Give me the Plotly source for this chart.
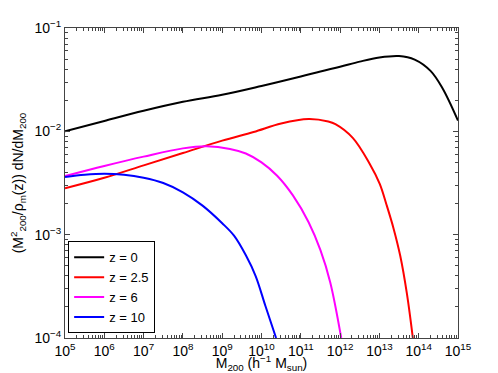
import plotly.graph_objects as go

# Data (M200 in h^-1 Msun, y = (M^2/rho_m) dN/dM)
M_z0 = [1e5, 1e6, 1e7, 1e8, 1e9, 1e10, 1e11, 3.16e11, 1e12, 3.16e12, 1e13, 3.16e13, 7.9e13, 2.0e14, 4.0e14, 1e15]
y_z0 = [1.00e-2, 1.26e-2, 1.58e-2, 1.93e-2, 2.26e-2, 2.75e-2, 3.39e-2, 3.80e-2, 4.22e-2, 4.73e-2, 5.19e-2, 5.36e-2, 4.95e-2, 3.85e-2, 2.63e-2, 1.27e-2]

M_z25 = [1e5, 1e6, 1e7, 1e8, 1e9, 6.3e9, 3.16e10, 1.58e11, 5.0e11, 7.6e11, 2.1e12, 5.6e12, 1.02e13, 1.51e13, 2.29e13, 3.39e13, 5.0e13, 7.1e13]
y_z25 = [2.81e-3, 3.55e-3, 4.68e-3, 6.17e-3, 8.13e-3, 9.86e-3, 1.19e-2, 1.315e-2, 1.245e-2, 1.175e-2, 8.65e-3, 4.89e-3, 3.10e-3, 1.96e-3, 1.15e-3, 6.24e-4, 2.70e-4, 1.0e-4]

M_z6 = [1e5, 1e6, 1e7, 1e8, 4e8, 1.58e9, 4e9, 1e10, 2.5e10, 6.3e10, 1.58e11, 3.16e11, 5.6e11, 1.07e12]
y_z6 = [3.69e-3, 4.62e-3, 5.69e-3, 6.84e-3, 7.16e-3, 6.76e-3, 6.10e-3, 5.01e-3, 3.72e-3, 2.40e-3, 1.32e-3, 7.08e-4, 3.47e-4, 1.0e-4]

M_z10 = [1e5, 3.16e5, 1e6, 3.16e6, 1e7, 3.16e7, 1e8, 3.16e8, 1e9, 2e9, 4e9, 7.1e9, 1.26e10, 2.35e10]
y_z10 = [3.61e-3, 3.80e-3, 3.89e-3, 3.80e-3, 3.55e-3, 3.16e-3, 2.57e-3, 1.91e-3, 1.29e-3, 9.77e-4, 6.31e-4, 3.98e-4, 2.04e-4, 1.0e-4]

series_names = ["z = 0", "z = 2.5", "z = 6", "z = 10"]
series_colors = ["#000000", "#ff0000", "#ff00ff", "#0000ff"]

x_exps = list(range(5, 16))
y_exps = [-4, -3, -2, -1]
x_tickvals = [10.0 ** e for e in x_exps]
x_ticktext = [f"10<sup>{e}</sup>" for e in x_exps]
y_tickvals = [10.0 ** e for e in y_exps]
y_ticktext = [f"10<sup>\u2212{-e}</sup>" for e in y_exps]

x_minor = [m * 10.0 ** e for e in range(5, 15) for m in range(2, 10)]
y_minor = [m * 10.0 ** e for e in range(-4, -1) for m in range(2, 10)]

FONT = "Liberation Sans, Arial, Helvetica, sans-serif"

fig = go.Figure()
for xs, ys, name, col in zip([M_z0, M_z25, M_z6, M_z10], [y_z0, y_z25, y_z6, y_z10], series_names, series_colors):
    fig.add_trace(go.Scatter(x=xs, y=ys, mode="lines", name=name,
                             line=dict(color=col, width=2, shape="spline", smoothing=1.0)))

axis_common = dict(
    type="log", showgrid=False, zeroline=False, showline=True, linecolor="#444",
    linewidth=1, mirror="allticks", ticks="inside", ticklen=5, tickcolor="#444",
    tickfont=dict(family=FONT, size=14, color="black"), tickmode="array",
)

fig.update_xaxes(range=[5, 15], tickvals=x_tickvals, ticktext=x_ticktext,
                 minor=dict(ticks="inside", ticklen=3, tickcolor="#444", tickmode="array", tickvals=x_minor, showgrid=False),
                 title=dict(text="M<sub>200</sub> (h<sup>\u22121</sup> M<sub>sun</sub>)", font=dict(family=FONT, size=14, color="black"), standoff=0),
                 **axis_common)
fig.update_yaxes(range=[-4, -1], tickvals=y_tickvals, ticktext=y_ticktext,
                 minor=dict(ticks="inside", ticklen=3, tickcolor="#444", tickmode="array", tickvals=y_minor, showgrid=False),
                 title=dict(text="(M<sup>2</sup><sub>200</sub>/\u03c1<sub>m</sub>(z)) dN/dM<sub>200</sub>", font=dict(family=FONT, size=14, color="black"), standoff=8),
                 **axis_common)

# page body has an 8px default margin, so the figure is sized/offset to compensate
fig.update_layout(
    width=490, height=365,
    margin=dict(l=57, r=40, t=20, b=35, autoexpand=False),
    paper_bgcolor="white", plot_bgcolor="white",
    font=dict(family=FONT, size=14, color="black"),
    showlegend=True,
    legend=dict(x=0.008, y=0.015, xanchor="left", yanchor="bottom",
                bgcolor="white", bordercolor="black", borderwidth=1,
                font=dict(family=FONT, size=13, color="black"),
                tracegroupgap=0, itemwidth=30),
)

fig.write_html("out.html")
